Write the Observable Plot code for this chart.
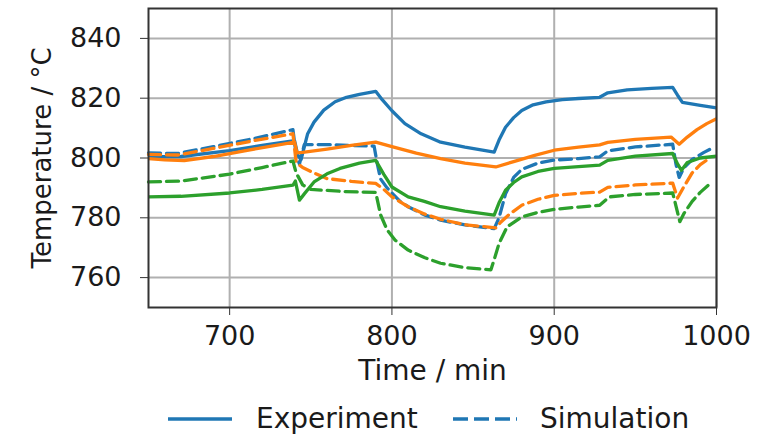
<!DOCTYPE html>
<html>
<head>
<meta charset="utf-8">
<script src="https://cdn.jsdelivr.net/npm/d3@7"></script>
<script src="https://cdn.jsdelivr.net/npm/@observablehq/plot@0.6"></script>
<style>
  html, body { margin: 0; padding: 0; background: #fff; }
  #wrap { position: relative; width: 777px; height: 436px; font-family: "DejaVu Sans", sans-serif; color: #1a1a1a; }
  #legend { position: absolute; left: 0; top: 390px; width: 777px; height: 46px; }
  #legend .sw { position: absolute; top: 26px; }
  #legend .lab { position: absolute; top: 13px; font-size: 28px; line-height: 32px; white-space: nowrap; }
</style>
</head>
<body>
<div id="wrap">
  <div id="chart"></div>
  <div id="legend"></div>
</div>
<script>
// ---- Data ----
const xTicks = [700, 800, 900, 1000];
const yTicks = [760, 780, 800, 820, 840];
const seriesColors = ["#1f77b4", "#ff7f0e", "#2ca02c"];
const legendLabels = ["Experiment", "Simulation"];

// Blue – experiment
const blueExpT = [650, 670, 700, 720, 740, 742, 744, 748, 752, 758, 765, 772, 780, 790, 794, 800, 808, 818, 830, 845, 863, 866, 870, 875, 880, 887, 895, 905, 915, 928, 933, 945, 960, 973, 976, 979, 990, 1000];
const blueExpV = [800.4, 800.5, 802.5, 804.2, 805.8, 801, 799.5, 808, 812, 816, 818.8, 820.3, 821.3, 822.3, 819.5, 815.8, 811.5, 808.1, 805.3, 803.6, 802, 806, 810.3, 813.5, 815.9, 817.8, 818.8, 819.5, 819.9, 820.3, 821.8, 822.8, 823.3, 823.6, 821, 818.6, 817.6, 816.8];
// Blue – simulation
const blueSimT = [650, 668, 690, 715, 739, 741, 743, 746, 760, 775, 789, 791, 793, 797, 805, 810, 820, 830, 845, 863, 866, 870, 875, 880, 890, 900, 915, 928, 933, 950, 973, 975, 977, 980, 985, 992, 997];
const blueSimV = [801.7, 801.5, 803.8, 806.5, 809.5, 801, 798, 804.5, 804.5, 804.2, 804, 798, 793, 790, 785.5, 783.7, 781, 779.2, 777.6, 776.4, 780, 788, 793.5, 796.2, 798.3, 799.3, 799.8, 800.4, 802.4, 803.7, 804.6, 798, 793.5, 796.8, 799.5, 801.8, 803.2];
// Orange – experiment
const orangeExpT = [650, 660, 672, 690, 710, 740, 741.5, 745, 760, 775, 790, 800, 815, 830, 845, 864, 875, 888, 900, 915, 928, 933, 950, 972, 977, 982, 988, 994, 1000];
const orangeExpV = [799.8, 799.4, 799.1, 800.5, 802.5, 805.3, 801.7, 801.9, 803, 804.2, 805.3, 803.8, 801.6, 799.8, 798.3, 797, 798.8, 800.9, 802.6, 803.6, 804.4, 805.2, 806.2, 807, 804.6, 807, 809.5, 811.5, 813.1];
// Orange – simulation
const orangeSimT = [650, 668, 690, 715, 739, 741, 745, 752, 760, 775, 790, 795, 800, 810, 820, 830, 845, 864, 867, 872, 880, 890, 900, 915, 928, 933, 950, 973, 976, 980, 985, 990, 996];
const orangeSimV = [801.2, 801, 803.2, 805.8, 808.1, 798.5, 796.8, 795, 793.1, 792.2, 791.5, 789.5, 787, 783.7, 781.3, 779.5, 777.7, 776.6, 778.5, 781, 784.2, 786.2, 787.5, 788.2, 788.6, 790.2, 791, 791.6, 786.6, 790.5, 795, 797.8, 800];
// Green – experiment
const greenExpT = [650, 670, 700, 720, 739, 740.5, 743, 746, 752, 760, 768, 780, 790, 795, 800, 810, 820, 830, 845, 863, 866, 870, 875, 880, 890, 900, 915, 928, 933, 950, 973, 976, 978.4, 982, 990, 1000];
const greenExpV = [787, 787.2, 788.3, 789.5, 790.9, 792.3, 785.9, 788, 792, 794.7, 796.5, 798.3, 799.2, 794.5, 790.3, 787, 785.5, 783.7, 782.2, 780.9, 785, 789.2, 791.8, 793.7, 795.5, 796.5, 797.1, 797.6, 799.2, 800.6, 801.5, 798, 795.9, 798.5, 800, 800.6];
// Green – simulation
const greenSimT = [650, 670, 700, 720, 739, 741, 745, 750, 770, 790, 793, 797, 802, 810, 820, 830, 845, 861, 863, 866, 871, 880, 890, 900, 915, 928, 934, 950, 973, 975, 977.4, 980, 985, 990, 995];
const greenSimV = [792, 792.3, 794.6, 796.8, 799, 795, 791, 789.5, 788.8, 788.5, 781, 776, 772.5, 769.2, 766.7, 764.8, 763.3, 762.6, 766, 771.4, 777, 780.3, 781.8, 782.8, 783.6, 784.2, 787, 787.8, 788.3, 784, 778.7, 781.5, 785.5, 788.5, 790.9];

// ---- Build tidy rows ----
function rows(ts, vs, color, kind) {
  return ts.map((t, i) => ({time: t, temp: vs[i], color, kind}));
}
const expSeries = [
  rows(blueExpT, blueExpV, seriesColors[0], "exp"),
  rows(orangeExpT, orangeExpV, seriesColors[1], "exp"),
  rows(greenExpT, greenExpV, seriesColors[2], "exp")
];
const simSeries = [
  rows(blueSimT, blueSimV, seriesColors[0], "sim"),
  rows(orangeSimT, orangeSimV, seriesColors[1], "sim"),
  rows(greenSimT, greenSimV, seriesColors[2], "sim")
];

const font = "DejaVu Sans";
const lineW = 3.3;
const dash = "12,6";

const marks = [
  Plot.gridX(xTicks, {stroke: "#b0b0b0", strokeOpacity: 1, strokeWidth: 2}),
  Plot.gridY(yTicks, {stroke: "#b0b0b0", strokeOpacity: 1, strokeWidth: 2}),
];
for (let i = 0; i < 3; i++) {
  marks.push(Plot.line(expSeries[i], {x: "time", y: "temp", stroke: seriesColors[i], strokeWidth: lineW, strokeLinejoin: "round", strokeLinecap: "butt"}));
  marks.push(Plot.line(simSeries[i], {x: "time", y: "temp", stroke: seriesColors[i], strokeWidth: lineW, strokeDasharray: dash, strokeLinejoin: "round"}));
}
marks.push(Plot.frame({stroke: "#333", strokeWidth: 2}));
marks.push(Plot.axisX(xTicks, {
  tickSize: 8, tickPadding: 10, tickFormat: d => String(d),
  fontSize: 27, stroke: "#333", label: null
}));
marks.push(Plot.axisX({
  ticks: [], tickSize: 0,
  label: "Time / min", labelAnchor: "center", labelArrow: "none", labelOffset: 72,
  fontSize: 28
}));
marks.push(Plot.axisY(yTicks, {
  tickSize: 8, tickPadding: 19, tickFormat: d => String(d),
  label: "Temperature / °C", labelAnchor: "center", labelArrow: "none", labelOffset: 116,
  fontSize: 26, stroke: "#333"
}));

const chart = Plot.plot({
  width: 777,
  height: 390,
  marginTop: 8,
  marginBottom: 83,
  marginLeft: 148,
  marginRight: 61,
  style: {fontFamily: font, fontSize: "27px", color: "#1a1a1a", background: "#fff"},
  x: {domain: [650, 1000]},
  y: {domain: [750, 850]},
  marks
});
// y tick labels use 27px while y label uses 26px
chart.querySelectorAll("g[aria-label='y-axis tick label'] text").forEach(t => t.setAttribute("font-size", "27"));
document.getElementById("chart").appendChild(chart);

// ---- Legend (HTML below the SVG) ----
const legend = document.getElementById("legend");
const items = [
  {label: legendLabels[0], dashed: false, swX: 168, txtX: 256},
  {label: legendLabels[1], dashed: true, swX: 453, txtX: 540}
];
for (const it of items) {
  const sw = document.createElementNS("http://www.w3.org/2000/svg", "svg");
  sw.setAttribute("class", "sw");
  sw.setAttribute("width", "64");
  sw.setAttribute("height", "6");
  sw.style.left = it.swX + "px";
  const ln = document.createElementNS("http://www.w3.org/2000/svg", "line");
  ln.setAttribute("x1", "0"); ln.setAttribute("x2", "64");
  ln.setAttribute("y1", "3"); ln.setAttribute("y2", "3");
  ln.setAttribute("stroke", seriesColors[0]);
  ln.setAttribute("stroke-width", "3.5");
  if (it.dashed) ln.setAttribute("stroke-dasharray", "15,6");
  sw.appendChild(ln);
  legend.appendChild(sw);
  const tx = document.createElement("div");
  tx.className = "lab";
  tx.style.left = it.txtX + "px";
  tx.textContent = it.label;
  legend.appendChild(tx);
}
</script>
</body>
</html>
